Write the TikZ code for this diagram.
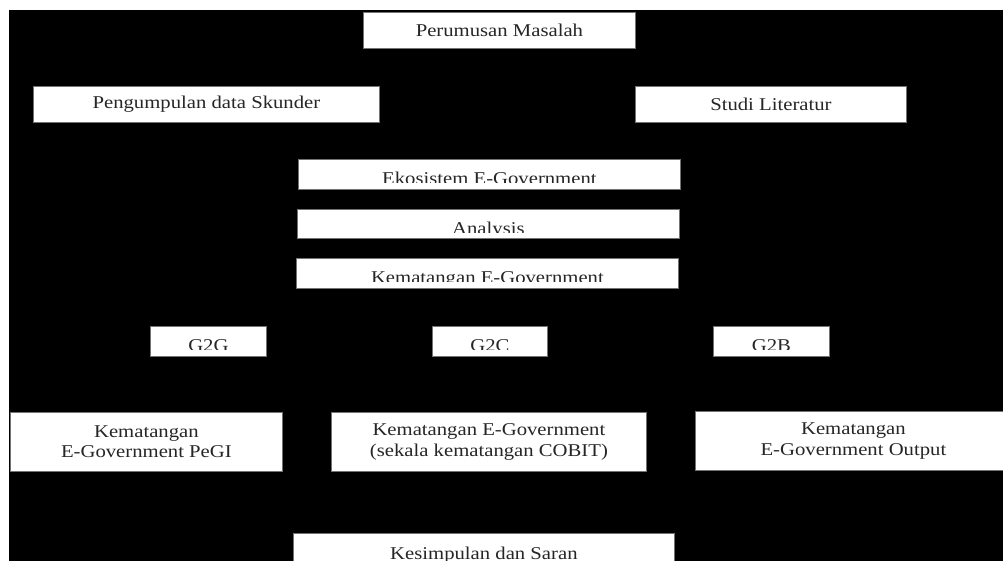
\documentclass[tikz,border=0pt]{standalone}
\usepackage{fontspec}
\setmainfont{Liberation Serif}[FakeStretch=1.15]
\usetikzlibrary{positioning}
% label whose lower part is hidden by the box
\newcommand{\cutlabel}[2]{%
  \begin{scope}
    \clip (#1.north west) rectangle ([yshift=-23pt]#1.north east);
    \node[lbl, anchor=base] at ([yshift=-25pt]#1.north) {#2};
  \end{scope}}

\begin{document}
\begin{tikzpicture}[x=1pt, y=-1pt,
  blk/.style={rectangle, draw=black!55, line width=0.8pt, fill=white, inner sep=0pt, anchor=north west},
  lbl/.style={font=\fontsize{18}{20.5}\selectfont, text=black!85, inner sep=0pt, align=center}]
  \useasboundingbox (0,0) rectangle (1003,560);
  \fill[white] (0,0) rectangle (1003,560);
  \fill[black] (9,10) rectangle (1012,572);

  % top
  \node[blk, minimum width=272pt, minimum height=36pt] (masalah) at (363,12) {};
  \node[lbl] at (masalah) {Perumusan Masalah};
  \node[blk, minimum width=346pt, minimum height=36pt] (skunder) at (33,86) {};
  \node[lbl] at (skunder) {Pengumpulan data Skunder};
  \node[blk, minimum width=271pt, minimum height=36pt] (literatur) at (635,86) {};
  \node[lbl] at (literatur) {Studi Literatur};

  % middle column
  \node[blk, minimum width=382pt, minimum height=30pt] (ekosistem) at (298,159) {};
  \cutlabel{ekosistem}{Ekosistem E-Government}
  \node[blk, minimum width=382pt, minimum height=29pt] (analysis) at (297,209) {};
  \cutlabel{analysis}{Analysis}
  \node[blk, minimum width=382pt, minimum height=30pt] (kematangan) at (296,258) {};
  \cutlabel{kematangan}{Kematangan E-Government}

  % G2G / G2C / G2B
  \node[blk, minimum width=116pt, minimum height=30pt] (gtog) at (150,326) {};
  \cutlabel{gtog}{G2G}
  \node[blk, minimum width=115pt, minimum height=30pt] (gtoc) at (432,326) {};
  \cutlabel{gtoc}{G2C}
  \node[blk, minimum width=116pt, minimum height=30pt] (gtob) at (713,326) {};
  \cutlabel{gtob}{G2B}

  % maturity
  \node[blk, minimum width=272pt, minimum height=59pt] (pegi) at (10,412) {};
  \node[lbl] at (pegi) {Kematangan\\E-Government PeGI};
  \node[blk, minimum width=315pt, minimum height=59pt] (cobit) at (331,412) {};
  \node[lbl] at (cobit) {Kematangan E-Government\\(sekala kematangan COBIT)};
  \node[blk, minimum width=316pt, minimum height=59pt] (output) at (695,411) {};
  \node[lbl] at (output) {Kematangan\\E-Government Output};

  % bottom
  \node[blk, minimum width=381pt, minimum height=40pt] (saran) at (293,533) {};
  \node[lbl, anchor=base] at ([yshift=-26pt]saran.north) {Kesimpulan dan Saran};
\end{tikzpicture}
\end{document}
